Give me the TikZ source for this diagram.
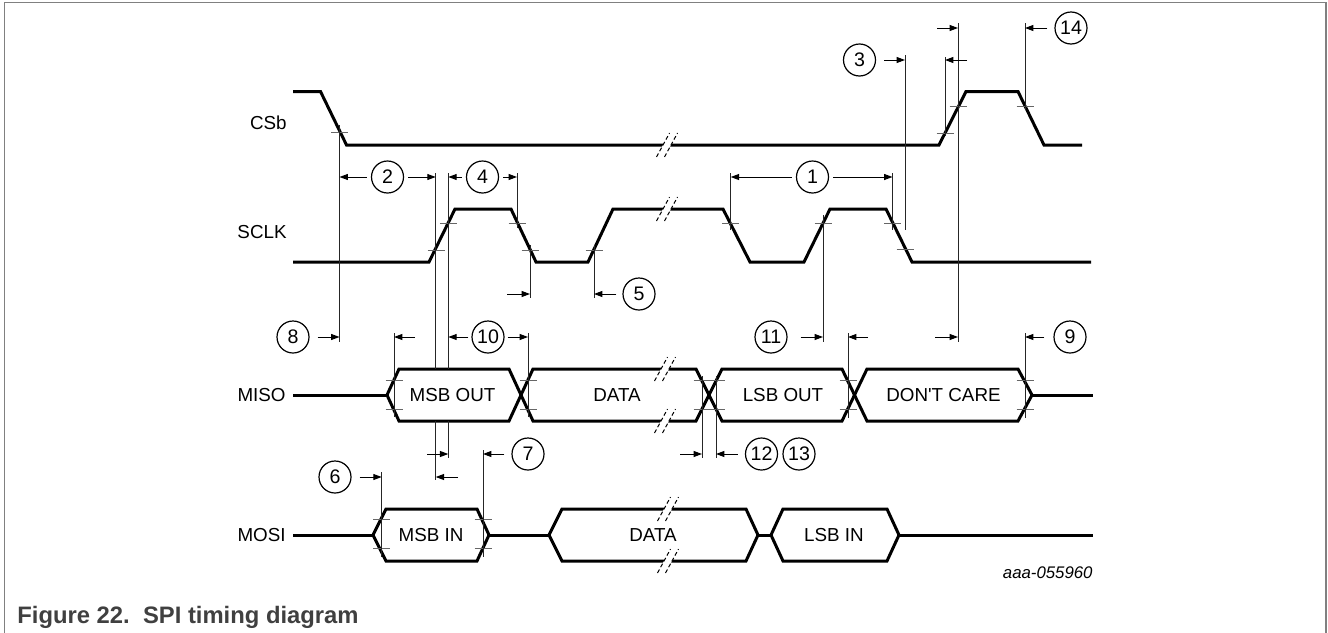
\documentclass[tikz,border=0pt]{standalone}
\usepackage{fontspec}
\setmainfont{Liberation Sans}
\newfontfamily\plainsans{Liberation Sans}
\usetikzlibrary{arrows.meta}
\newcommand{\brkmark}[2]{%
  \fill[white] ({#1-4-5},{#2+9}) -- ({#1-4+5},{#2-9}) -- ({#1+4+5},{#2-9}) -- ({#1+4-5},{#2+9}) -- cycle;
  \draw[brkline] ({#1-4-6.5},{#2+12}) -- ({#1-4+6.5},{#2-12});
  \draw[brkline] ({#1+4-6.5},{#2+12}) -- ({#1+4+6.5},{#2-12});}
\newcommand{\tk}[2]{\draw[tickl] ({#1-8.5},#2) -- ({#1+8.5},#2);}
\begin{document}
\begin{tikzpicture}[x=0.5pt,y=-0.5pt,
  sig/.style={line width=1.5pt,line join=miter,line cap=butt},
  ref/.style={line width=0.5pt,draw=black!85},
  tickl/.style={line width=0.5pt,draw=black!60},
  brkline/.style={line width=0.5pt,dash pattern=on 2pt off 1.3pt},
  dim/.style={line width=0.5pt,-{Triangle[length=4.2pt,width=3pt]}},
  num/.style={circle,draw,line width=0.6pt,minimum size=16pt,inner sep=0pt,font=\fontsize{9.8}{10}\selectfont},
  lbl/.style={font=\fontsize{9.4}{11}\selectfont,inner sep=0pt},
]
\useasboundingbox (0,0) rectangle (1328,632);
\fill[white] (0,0) rectangle (1328,632);
% frame
\draw[line width=0.65pt,black!50] (4.3,640) -- (4.3,2.3) -- (1326,2.3) -- (1326,640);

% signal labels
\node[lbl,anchor=east] (lcs) at (287,123) {CSb};
\node[lbl,anchor=east] (lclk) at (287,232) {SCLK};
\node[lbl,anchor=east] (lmiso) at (286,395) {MISO};
\node[lbl,anchor=east] (lmosi) at (286,535) {MOSI};

% CSb
\draw[sig] (293,91.5) -- (320.5,91.5) -- (346.5,145) -- (939,145) -- (966,91.5) -- (1018,91.5) -- (1044,145) -- (1082,145);
% SCLK
\draw[sig] (293,262) -- (429,262) -- (455,209) -- (511,209) -- (536,262) -- (588,262) -- (613,209) -- (723,209) -- (750,262) -- (804,262) -- (830,209) -- (886,209) -- (912,262) -- (1091,262);
% MISO
\draw[sig] (293,395) -- (387,395);
\draw[sig] (387,395) -- (399,369) -- (509,369) -- (533,421) -- (696,421) -- (722,369) -- (842,369) -- (867,421) -- (1018,421) -- (1032,395);
\draw[sig] (387,395) -- (399,421) -- (509,421) -- (533,369) -- (696,369) -- (722,421) -- (842,421) -- (867,369) -- (1018,369) -- (1032,395);
\draw[sig] (1032,395) -- (1093,395);
% MOSI
\draw[sig] (293,535) -- (373,535);
\draw[sig] (373,535) -- (386,509) -- (477,509) -- (489,535) -- (477,561) -- (386,561) -- cycle;
\draw[sig] (489,535) -- (549,535);
\draw[sig] (549,535) -- (562,509) -- (746,509) -- (758,535) -- (746,561) -- (562,561) -- cycle;
\draw[sig] (758,535) -- (771,535);
\draw[sig] (771,535) -- (783,509) -- (887,509) -- (899,535) -- (887,561) -- (783,561) -- cycle;
\draw[sig] (899,535) -- (1093,535);

% break marks
\brkmark{667}{145}
\brkmark{667}{209}
\brkmark{665}{369}
\brkmark{665}{421}
\brkmark{668}{509}
\brkmark{668}{561}

% bus texts
\node[lbl] (tmsbo) at (452.5,395) {MSB OUT};
\node[lbl] (tdata1) at (617,395) {DATA};
\node[lbl] (tlsbo) at (783,395) {LSB OUT};
\node[lbl] (tdc) at (943.5,395) {\plainsans DON'T CARE};
\node[lbl] (tmsbi) at (431,535) {MSB IN};
\node[lbl] (tdata2) at (653,535) {DATA};
\node[lbl] (tlsbi) at (834,535) {LSB IN};

% ticks
\tk{339.5}{132}
\tk{945}{133} \tk{958}{106} \tk{1025}{106}
\tk{436}{250} \tk{448.3}{223} \tk{517}{223} \tk{530}{250} \tk{594}{250}
\tk{730.7}{223} \tk{823}{223} \tk{892.5}{223} \tk{905}{249}
\foreach \xx in {394,528,702,716,848,1025} {\tk{\xx}{380} \tk{\xx}{409}}
\foreach \xx in {381.7,483} {\tk{\xx}{519} \tk{\xx}{548}}

% reference lines
\draw[ref] (339.5,125) -- (339.5,342);
\draw[ref] (435.7,173) -- (435.7,369) (435.7,421) -- (435.7,480);
\draw[ref] (448.3,173) -- (448.3,369) (448.3,421) -- (448.3,458);
\draw[ref] (517,173) -- (517,228);
\draw[ref] (530,245) -- (530,298);
\draw[ref] (594,245) -- (594,298);
\draw[ref] (730.7,173) -- (730.7,230);
\draw[ref] (892.5,173) -- (892.5,230);
\draw[ref] (823,215) -- (823,342);
\draw[ref] (905,55) -- (905,230);
\draw[ref] (945,57) -- (945,136);
\draw[ref] (958,23) -- (958,342);
\draw[ref] (1025,23) -- (1025,110);
\draw[ref] (394,333) -- (394,417);
\draw[ref] (528,333) -- (528,417);
\draw[ref] (848,333) -- (848,418);
\draw[ref] (1025,333) -- (1025,418);
\draw[ref] (702,376) -- (702,458);
\draw[ref] (716,376) -- (716,458);
\draw[ref] (381.7,472) -- (381.7,557);
\draw[ref] (483,450) -- (483,557);

% numbered circles
\node[num] (n1) at (812.5,177) {1};
\node[num] (n2) at (387.5,177) {2};
\node[num] (n3) at (859.5,60) {3};
\node[num] (n4) at (482.5,177) {4};
\node[num] (n5) at (639,294) {5};
\node[num] (n6) at (335,477) {6};
\node[num] (n7) at (528,454) {7};
\node[num] (n8) at (293,337) {8};
\node[num] (n9) at (1070,337) {9};
\node[num] (n10) at (488,337) {10};
\node[num] (n11) at (771,337) {11};
\node[num] (n12) at (761.5,454) {12};
\node[num] (n13) at (799,454) {13};
\node[num] (n14) at (1071,28) {14};

% dimension arrows
\draw[dim] ([xshift=-2pt]n2.west) -- (339.5,177);
\draw[dim] ([xshift=2pt]n2.east) -- (435.7,177);
\draw[dim] ([xshift=-2pt]n4.west) -- (448.3,177);
\draw[dim] ([xshift=2pt]n4.east) -- (517,177);
\draw[dim] ([xshift=-2pt]n1.west) -- (730.7,177);
\draw[dim] ([xshift=2pt]n1.east) -- (892.5,177);
\draw[dim] ([xshift=4pt]n3.east) -- (905,60);
\draw[dim] (967,60) -- (945,60);
\draw[dim] (937,28) -- (958,28);
\draw[dim] ([xshift=-3.5pt]n14.west) -- (1025,28);
\draw[dim] (507,294) -- (530,294);
\draw[dim] ([xshift=-3pt]n5.west) -- (594,294);
\draw[dim] ([xshift=4pt]n8.east) -- (339.5,337);
\draw[dim] (415,337) -- (394,337);
\draw[dim] ([xshift=-1.5pt]n10.west) -- (448.3,337);
\draw[dim] ([xshift=1.5pt]n10.east) -- (528,337);
\draw[dim] ([xshift=6.5pt]n11.east) -- (823,337);
\draw[dim] (868,337) -- (848,337);
\draw[dim] (935,337) -- (958,337);
\draw[dim] ([xshift=-4.5pt]n9.west) -- (1025,337);
\draw[dim] (680,454) -- (702,454);
\draw[dim] ([xshift=-3.5pt]n12.west) -- (716,454);
\draw[dim] (427,454) -- (448.3,454);
\draw[dim] ([xshift=-3.5pt]n7.west) -- (483,454);
\draw[dim] ([xshift=4pt]n6.east) -- (381.7,477);
\draw[dim] (458,477) -- (435.7,477);

% id and caption
\node[anchor=east,inner sep=0pt,font=\fontsize{8.4}{10}\selectfont\itshape] (id) at (1093,573) {aaa-055960};
\node[anchor=base west,inner sep=0pt,text=black!75,font=\fontsize{11.9}{14}\selectfont\bfseries] (cap) at (17,623) {Figure 22.\ \ SPI timing diagram};
\end{tikzpicture}
\end{document}
